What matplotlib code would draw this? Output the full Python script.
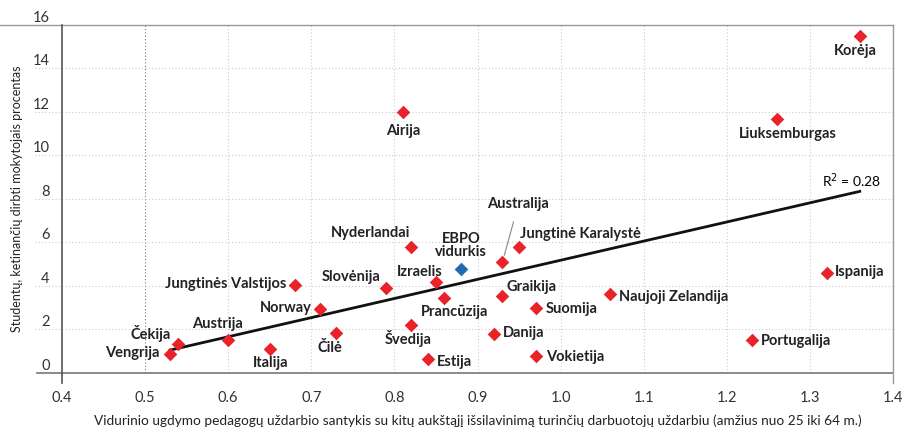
import numpy as np
import matplotlib.pyplot as plt

plt.rcParams['font.family'] = ['Lato', 'DejaVu Sans']

# duomenys
salys = ['Korėja', 'Liuksemburgas', 'Airija', 'Ispanija', 'Naujoji Zelandija',
         'Portugalija', 'Vokietija', 'Danija', 'Suomija', 'Graikija', 'Australija',
         'Jungtinė Karalystė', 'Nyderlandai', 'Izraelis', 'Prancūzija', 'Slovėnija',
         'Švedija', 'Estija', 'Čilė', 'Norway', 'Jungtinės Valstijos', 'Italija',
         'Austrija', 'Čekija', 'Vengrija']
santykis = [1.36, 1.26, 0.81, 1.32, 1.06, 1.23, 0.97, 0.92, 0.97, 0.93, 0.93,
            0.95, 0.82, 0.85, 0.86, 0.79, 0.82, 0.84, 0.73, 0.71, 0.68, 0.65,
            0.60, 0.54, 0.53]
procentas = [15.5, 11.7, 12.0, 4.6, 3.65, 1.5, 0.8, 1.8, 3.0, 3.55, 5.1,
             5.8, 5.8, 4.2, 3.45, 3.9, 2.2, 0.65, 1.85, 2.95, 4.05, 1.1,
             1.5, 1.35, 0.85]
ebpo_x, ebpo_y = 0.88, 4.8
trend_x = [0.53, 1.36]
trend_y = [1.05, 8.35]

# etikečių poslinkiai (pikseliais) ir lygiavimas
poslinkiai = {
    'Korėja': (-4, -15, 'center'), 'Liuksemburgas': (11, -15, 'center'),
    'Airija': (0, -19, 'center'), 'Ispanija': (8, 1, 'left'),
    'Naujoji Zelandija': (9, -3, 'left'), 'Portugalija': (9, -1, 'left'),
    'Vokietija': (10, -1, 'left'), 'Danija': (9, 1, 'left'),
    'Suomija': (10, -1, 'left'), 'Graikija': (4, 9, 'left'),
    'Australija': (16, 58, 'center'), 'Jungtinė Karalystė': (1, 13, 'left'),
    'Nyderlandai': (-1, 14, 'right'), 'Izraelis': (7, 10, 'right'),
    'Prancūzija': (10, -14, 'center'), 'Slovėnija': (-6, 11, 'right'),
    'Švedija': (-3, -13, 'center'), 'Estija': (9, -3, 'left'),
    'Čilė': (-6, -15, 'center'), 'Norway': (-8, 1, 'right'),
    'Jungtinės Valstijos': (-8, 1, 'right'), 'Italija': (1, -14, 'center'),
    'Austrija': (-11, 16, 'center'), 'Čekija': (-28, 10, 'center'),
    'Vengrija': (-11, 1, 'right'),
}

fig = plt.figure(figsize=(9.08, 4.34), dpi=100)
ax = fig.add_axes([0.0683, 0.1406, 0.9152, 0.8018])
ax.set_xlim(0.4, 1.4)
ax.set_ylim(0, 16)

xt = np.round(np.arange(0.4, 1.41, 0.1), 1)
yt = np.arange(0, 17, 2)
ax.set_xticks(xt)
ax.set_yticks(yt)
ax.set_xticklabels([f'{v:.1f}' for v in xt])
ax.tick_params(length=0, labelsize=10.5, labelcolor='#333333')
ax.tick_params(axis='x', pad=13)
ax.tick_params(axis='y', pad=9)
for lab in ax.get_yticklabels():
    lab.set_verticalalignment('bottom')

# tinklelis
for v in xt[1:-1]:
    c = '#777777' if v == 0.5 else '#cccccc'
    ax.axvline(v, color=c, lw=0.8, ls=(0, (1, 2)), zorder=0)
ax.hlines(yt[1:-1], -0.033, 1, transform=ax.get_yaxis_transform(),
          color='#cccccc', lw=0.8, ls=(0, (1, 2)), zorder=0, clip_on=False)

for s in ax.spines.values():
    s.set_visible(False)
ax.plot([-0.03, 1], [0, 0], transform=ax.transAxes, color='#777777', lw=1.2, clip_on=False)
ax.plot([-0.075, 1], [1, 1], transform=ax.transAxes, color='#999999', lw=1, clip_on=False)
ax.plot([0, 0], [-0.03, 1], transform=ax.transAxes, color='#555555', lw=1.2, clip_on=False)
ax.plot([1, 1], [-0.03, 1], transform=ax.transAxes, color='#999999', lw=1, clip_on=False)

ax.plot(trend_x, trend_y, color='#111111', lw=2, zorder=2)
ax.text(1.35, 8.86, 'R$^2$ = 0.28', ha='center', va='center', fontsize=10)

ax.scatter(santykis, procentas, marker='D', s=48, color='#e8232a', zorder=3, lw=0)
ax.scatter([ebpo_x], [ebpo_y], marker='D', s=48, color='#2468b4', zorder=3, lw=0)

for name, x, y in zip(salys, santykis, procentas):
    dx, dy, ha = poslinkiai[name]
    if name == 'Australija':
        ax.annotate(name, (x, y), xytext=(dx, dy), textcoords='offset pixels',
                    ha=ha, va='center', fontsize=10.5, fontweight='bold', color='#222222',
                    arrowprops=dict(arrowstyle='-', color='#888888', lw=0.8,
                                    shrinkA=6, shrinkB=5))
    else:
        ax.annotate(name, (x, y), xytext=(dx, dy), textcoords='offset pixels',
                    ha=ha, va='center', fontsize=10.5, fontweight='bold', color='#222222')
ax.annotate('EBPO\nvidurkis', (ebpo_x, ebpo_y), xytext=(0, 23), textcoords='offset pixels',
            ha='center', va='center', fontsize=10.5, fontweight='bold', color='#222222',
            linespacing=0.95)

ax.set_xlabel('Vidurinio ugdymo pedagogų uždarbio santykis su kitų aukštąjį išsilavinimą turinčių darbuotojų uždarbiu (amžius nuo 25 iki 64 m.)',
              fontsize=9.8, color='#222222', labelpad=7)
ax.set_ylabel('Studentų, ketinančių dirbti mokytojais procentas', fontsize=9,
              color='#222222', labelpad=7)

fig.savefig('out.png', dpi=100)
